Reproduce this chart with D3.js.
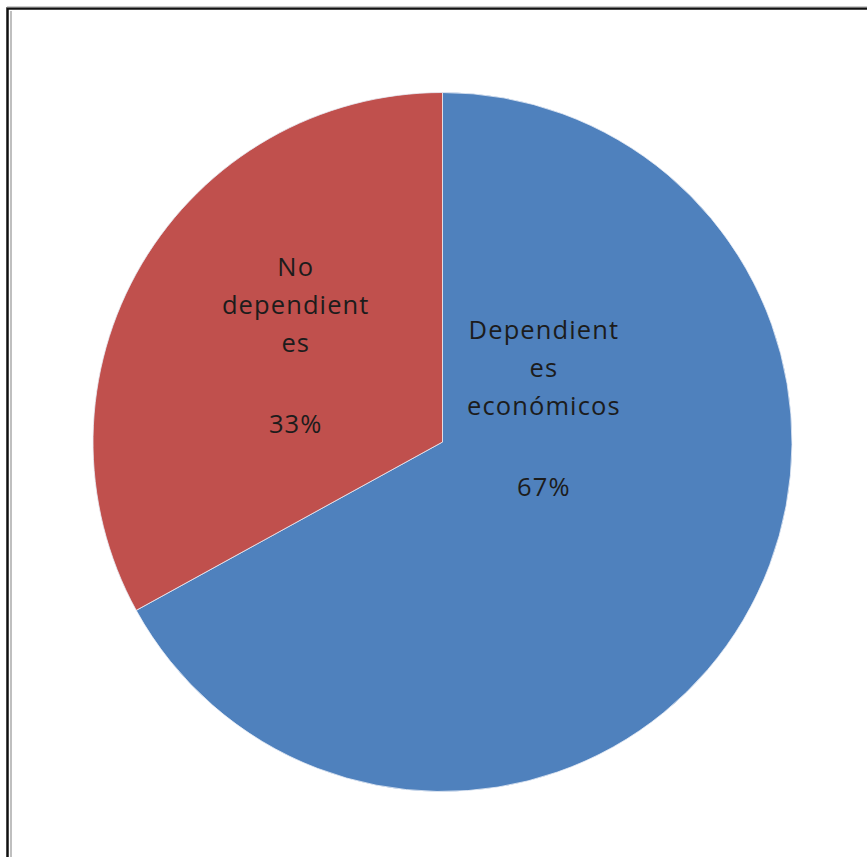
<!DOCTYPE html>
<html>
<head>
<meta charset="utf-8">
<script src="https://cdn.jsdelivr.net/npm/d3@7/dist/d3.min.js"></script>
<style>
  html, body { margin: 0; padding: 0; background: #fff; }
  svg { display: block; }
</style>
</head>
<body>
<svg id="chart" width="867" height="857"></svg>
<script>
// Categories, their shares (%) and the label lines shown inside each slice
const categories = ["Dependientes económicos", "No dependientes"];
const values = [67, 33];
const labelLines = [["Dependient", "es", "económicos"], ["No", "dependient", "es"]];
const colors = ["#4f81bd", "#c0504d"];

const svg = d3.select("#chart");
const W = 867, H = 857;

// Frame: black outer line with a thin grey inner line (top and left visible)
svg.append("path")
  .attr("d", `M7.5,${H} V8.5 H${W}`)
  .attr("fill", "none").attr("stroke", "#111").attr("stroke-width", 2.5);
svg.append("path")
  .attr("d", `M11,${H} V11`)
  .attr("fill", "none").attr("stroke", "#aaa").attr("stroke-width", 1.5);
svg.append("path")
  .attr("d", `M7,7 H${W}`)
  .attr("fill", "none").attr("stroke", "#999").attr("stroke-width", 1);

const cx = 442.5, cy = 442, r = 349.5;
const g = svg.append("g").attr("transform", `translate(${cx},${cy})`);

const pie = d3.pie().sort(null).value(d => d);
const arcs = pie(values);
const arc = d3.arc().innerRadius(0).outerRadius(r);

g.selectAll("path.slice")
  .data(arcs)
  .join("path")
  .attr("class", "slice")
  .attr("d", arc)
  .attr("fill", (d, i) => colors[i])
  .attr("stroke", "#e8eef6")
  .attr("stroke-width", 0.8);

// Label block placement, as fractions of the radius from the pie centre
// (x and y of the first line's middle)
const labelAnchor = [[0.29, -0.32], [-0.42, -0.50]];
const fontSize = 25.5;
const lineH = 38;
const pctGap = 81;

arcs.forEach((d, i) => {
  const lx = labelAnchor[i][0] * r;
  const ly = labelAnchor[i][1] * r;
  const text = g.append("text")
    .attr("text-anchor", "middle")
    .attr("font-family", "'Open Sans', 'Noto Sans', sans-serif")
    .attr("font-size", fontSize)
    .attr("letter-spacing", 1.1)
    .attr("fill", "#1c1c1c");
  const lines = labelLines[i];
  lines.forEach((ln, k) => {
    text.append("tspan")
      .attr("x", lx)
      .attr("y", ly + k * lineH + fontSize * 0.36)
      .text(ln);
  });
  text.append("tspan")
    .attr("x", lx)
    .attr("y", ly + (lines.length - 1) * lineH + pctGap + fontSize * 0.36)
    .text(d3.format(".0f")(d.data) + "%");
});
</script>
</body>
</html>
